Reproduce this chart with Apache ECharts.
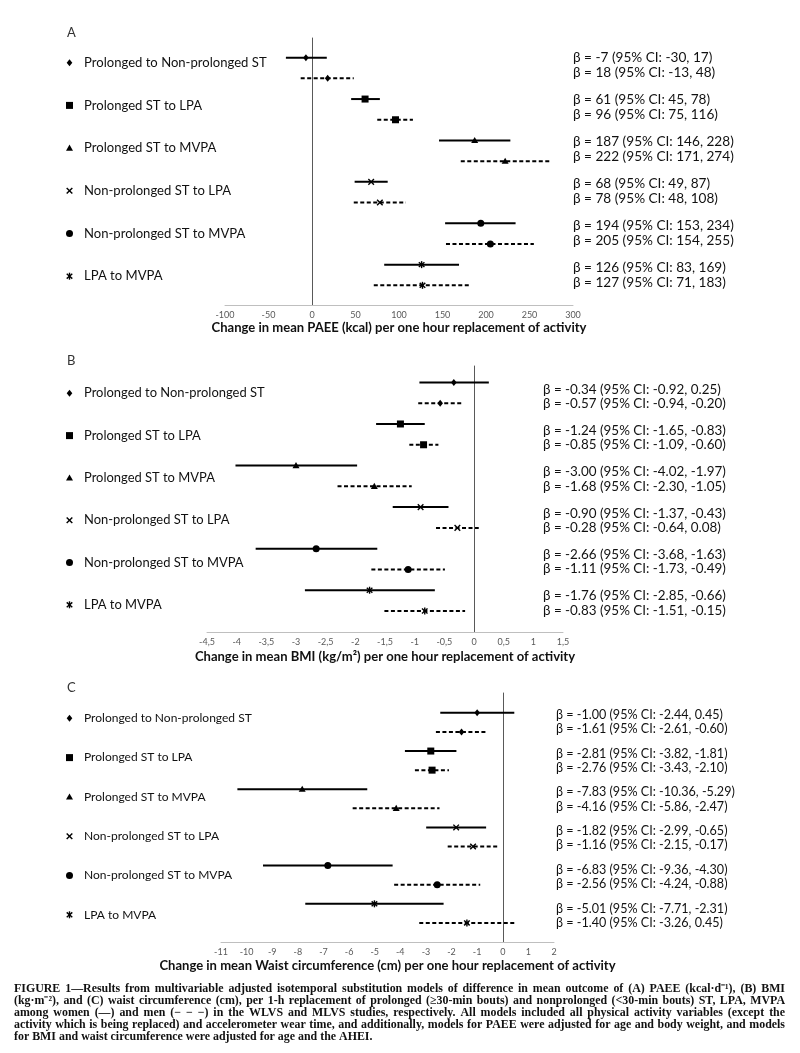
<!DOCTYPE html>
<html><head><meta charset="utf-8">
<script src="https://cdn.jsdelivr.net/npm/echarts@6/dist/echarts.min.js"></script>
<style>html,body{margin:0;padding:0;background:#fff}#c{width:800px;height:1053px}</style>
</head><body><div id="c"></div><script>
// ---------------- DATA ----------------
const categories = ["Prolonged to Non-prolonged ST","Prolonged ST to LPA","Prolonged ST to MVPA","Non-prolonged ST to LPA","Non-prolonged ST to MVPA","LPA to MVPA"];
const markerKinds = ['diamond','square','triangle','cross','circle','asterisk'];

// (A) PAEE (kcal)
const paeeWomenEst = [-7, 61, 187, 68, 194, 126];
const paeeWomenLo  = [-30, 45, 146, 49, 153, 83];
const paeeWomenHi  = [17, 78, 228, 87, 234, 169];
const paeeMenEst   = [18, 96, 222, 78, 205, 127];
const paeeMenLo    = [-13, 75, 171, 48, 154, 71];
const paeeMenHi    = [48, 116, 274, 108, 255, 183];

// (B) BMI (kg/m2)
const bmiWomenEst = [-0.34, -1.24, -3.00, -0.90, -2.66, -1.76];
const bmiWomenLo  = [-0.92, -1.65, -4.02, -1.37, -3.68, -2.85];
const bmiWomenHi  = [0.25, -0.83, -1.97, -0.43, -1.63, -0.66];
const bmiMenEst   = [-0.57, -0.85, -1.68, -0.28, -1.11, -0.83];
const bmiMenLo    = [-0.94, -1.09, -2.30, -0.64, -1.73, -1.51];
const bmiMenHi    = [-0.20, -0.60, -1.05, 0.08, -0.49, -0.15];

// (C) Waist circumference (cm)
const waistWomenEst = [-1.00, -2.81, -7.83, -1.82, -6.83, -5.01];
const waistWomenLo  = [-2.44, -3.82, -10.36, -2.99, -9.36, -7.71];
const waistWomenHi  = [0.45, -1.81, -5.29, -0.65, -4.30, -2.31];
const waistMenEst   = [-1.61, -2.76, -4.16, -1.16, -2.56, -1.40];
const waistMenLo    = [-2.61, -3.43, -5.86, -2.15, -4.24, -3.26];
const waistMenHi    = [-0.60, -2.10, -2.47, -0.17, -0.88, 0.45];

const axisTitles = [
  "Change in mean PAEE (kcal) per one hour replacement of activity",
  "Change in mean BMI (kg/m²) per one hour replacement of activity",
  "Change in mean Waist circumference (cm) per one hour replacement of activity"
];
const panelLetters = ['A','B','C'];
const xMin = [-100, -4.5, -11];
const xMax = [300, 1.5, 2];
const xInterval = [50, 0.5, 1];
const decimals = [0, 2, 2];

const captionLines = [
  "FIGURE 1—Results from multivariable adjusted isotemporal substitution models of difference in mean outcome of (A) PAEE (kcal·d⁻¹), (B) BMI",
  "(kg·m⁻²), and (C) waist circumference (cm), per 1-h replacement of prolonged (≥30-min bouts) and nonprolonged (<30-min bouts) ST, LPA, MVPA",
  "among women (—) and men (− − −) in the WLVS and MLVS studies, respectively. All models included all physical activity variables (except the",
  "activity which is being replaced) and accelerometer wear time, and additionally, models for PAEE were adjusted for age and body weight, and models",
  "for BMI and waist circumference were adjusted for age and the AHEI."
];

// ---------------- LAYOUT ----------------
const H = 1053;
const FONT = 'Lato';
const INK = '#111';
const ctx = document.createElement('canvas').getContext('2d');
function fit(text, weight, family, target) {
  ctx.font = `${weight} 20px ${family}`;
  return 20 * target / ctx.measureText(text).width;
}
const layout = [
  {left:225, right:227, top:38, axisY:305, yMin:-0.95, yMax:11.95, letterY:33, labelY0:62.7, labelStep:42.7, labelW:182.7,
   betaX:573, betaY0:57.3, betaStep:42, betaGap:15, betaRef:2, betaW:161, nameGap:13},
  {left:207, right:237, top:366, axisY:632, yMin:-0.79, yMax:12.01, letterY:361, labelY0:393.3, labelStep:42.3, labelW:180.7,
   betaX:543, betaY0:389.3, betaStep:41.3, betaGap:14.5, betaRef:2, betaW:183, nameGap:18},
  {left:221, right:246, top:693, axisY:942, yMin:-1.04, yMax:12.0, letterY:688, labelY0:718.3, labelStep:39.3, labelW:168,
   betaX:556, betaY0:715, betaStep:38.7, betaGap:14.3, betaRef:2, betaW:179, nameGap:17}
];
const titleSize = fit(axisTitles[0], 'bold', FONT, 375);

const panels = [
  {w:[paeeWomenEst,paeeWomenLo,paeeWomenHi], m:[paeeMenEst,paeeMenLo,paeeMenHi]},
  {w:[bmiWomenEst,bmiWomenLo,bmiWomenHi], m:[bmiMenEst,bmiMenLo,bmiMenHi]},
  {w:[waistWomenEst,waistWomenLo,waistWomenHi], m:[waistMenEst,waistMenLo,waistMenHi]}
];

function markerEls(kind, x, y, s, color) {
  const h = s / 2;
  const st = {stroke: color, lineWidth: 1.4};
  switch (kind) {
    case 'diamond': return [{type:'polygon', shape:{points:[[x,y-h],[x+h*0.8,y],[x,y+h],[x-h*0.8,y]]}, style:{fill:color}}];
    case 'square': return [{type:'rect', shape:{x:x-h, y:y-h, width:s, height:s}, style:{fill:color}}];
    case 'triangle': return [{type:'polygon', shape:{points:[[x,y-h],[x+h,y+h*0.75],[x-h,y+h*0.75]]}, style:{fill:color}}];
    case 'cross': return [
      {type:'line', shape:{x1:x-h*0.8,y1:y-h*0.8,x2:x+h*0.8,y2:y+h*0.8}, style:st},
      {type:'line', shape:{x1:x-h*0.8,y1:y+h*0.8,x2:x+h*0.8,y2:y-h*0.8}, style:st}];
    case 'circle': return [{type:'circle', shape:{cx:x, cy:y, r:h}, style:{fill:color}}];
    case 'asterisk': return [
      {type:'line', shape:{x1:x-h*0.8,y1:y-h*0.7,x2:x+h*0.8,y2:y+h*0.7}, style:st},
      {type:'line', shape:{x1:x-h*0.8,y1:y+h*0.7,x2:x+h*0.8,y2:y-h*0.7}, style:st},
      {type:'line', shape:{x1:x,y1:y-h,x2:x,y2:y+h}, style:st}];
  }
  return [];
}

const grids = [], xAxes = [], yAxes = [], series = [], graphic = [];

layout.forEach((L, p) => {
  const fmt = v => v.toFixed(decimals[p]);
  const betaText = (key, i) => {
    const [est, lo, hi] = panels[p][key];
    return `β = ${fmt(est[i])} (95% CI: ${fmt(lo[i])}, ${fmt(hi[i])})`;
  };
  const labelSize = fit(categories[0], 'normal', FONT, L.labelW);
  const betaSize = fit(betaText('w', L.betaRef), 'normal', FONT, L.betaW);

  grids.push({left:L.left, right:L.right, top:L.top, bottom:H - L.axisY, containLabel:false});
  xAxes.push({
    type:'value', gridIndex:p, min:xMin[p], max:xMax[p], interval:xInterval[p],
    splitLine:{show:false}, axisTick:{show:false},
    axisLine:{onZero:false, lineStyle:{color:'#bfbfbf', width:1}},
    axisLabel:{fontSize:9, color:'#595959', fontFamily:FONT, margin:6,
      formatter: v => { let s = String(Math.round(v*100)/100); return p === 1 ? s.replace('.', ',') : s; }},
    name: axisTitles[p], nameLocation:'middle', nameGap:L.nameGap,
    nameTextStyle:{fontSize:titleSize, fontWeight:'bold', color:INK, fontFamily:FONT}
  });
  yAxes.push({
    type:'value', gridIndex:p, min:L.yMin, max:L.yMax, inverse:true,
    splitLine:{show:false}, axisTick:{show:false}, axisLabel:{show:false},
    axisLine:{show:true, onZero:true, lineStyle:{color:'#595959', width:1}}
  });
  [['w', false], ['m', true]].forEach(([key, isMen]) => {
    const [est, lo, hi] = panels[p][key];
    const data = est.map((e, i) => [e, lo[i], hi[i], i*2 + (isMen ? 1 : 0), i]);
    series.push({
      type:'custom', xAxisIndex:p, yAxisIndex:p, data,
      encode:{x:[0,1,2], y:3},
      renderItem(params, api) {
        const y = api.value(3);
        const a = api.coord([api.value(1), y]);
        const b = api.coord([api.value(2), y]);
        const c = api.coord([api.value(0), y]);
        const children = [{type:'line', shape:{x1:a[0], y1:a[1], x2:b[0], y2:b[1]},
          style:{stroke:'#000', lineWidth:2, lineDash: isMen ? [4,2.5] : null}}];
        return {type:'group', children: children.concat(markerEls(markerKinds[api.value(4)], c[0], c[1], 7, '#000'))};
      }
    });
  });
  graphic.push({type:'text', x:67, y:L.letterY, style:{text:panelLetters[p], font:'13px '+FONT, fill:'#333', textVerticalAlign:'middle', verticalAlign:'middle'}});
  categories.forEach((cat, i) => {
    const y = L.labelY0 + i*L.labelStep;
    markerEls(markerKinds[i], 69.5, y, 7, '#000').forEach(el => graphic.push(el));
    graphic.push({type:'text', x:84, y, style:{text:cat, font:`${labelSize}px ${FONT}`, fill:INK, textVerticalAlign:'middle', verticalAlign:'middle'}});
  });
  categories.forEach((cat, i) => {
    const y = L.betaY0 + i*L.betaStep;
    ['w','m'].forEach((key, k) => {
      graphic.push({type:'text', x:L.betaX, y: y + k*L.betaGap,
        style:{text:betaText(key, i), font:`${betaSize}px ${FONT}`, fill:INK, textVerticalAlign:'middle', verticalAlign:'middle'}});
    });
  });
});

// caption, justified
const capLeft = 14, capRight = 785, capY0 = 989.3, capStep = 12;
const capSize = fit(captionLines[3], 'bold', '"Liberation Serif"', (capRight - capLeft) - 12);
const capFont = `bold ${capSize}px "Liberation Serif"`;
ctx.font = capFont;
captionLines.forEach((line, li) => {
  const words = line.split(' ');
  const widths = words.map(w => ctx.measureText(w).width);
  const total = widths.reduce((a, b) => a + b, 0);
  const last = li === captionLines.length - 1;
  const gap = last ? ctx.measureText(' ').width : (capRight - capLeft - total) / (words.length - 1);
  let x = capLeft;
  const y = capY0 + li*capStep;
  words.forEach((w, i) => {
    graphic.push({type:'text', x, y, style:{text:w, font:capFont, fill:'#111', textVerticalAlign:'middle', verticalAlign:'middle'}});
    x += widths[i] + gap;
  });
});

const chart = echarts.init(document.getElementById('c'), null, {renderer:'canvas'});
chart.setOption({
  animation:false, backgroundColor:'#fff',
  grid:grids, xAxis:xAxes, yAxis:yAxes, series, graphic
});
</script></body></html>
